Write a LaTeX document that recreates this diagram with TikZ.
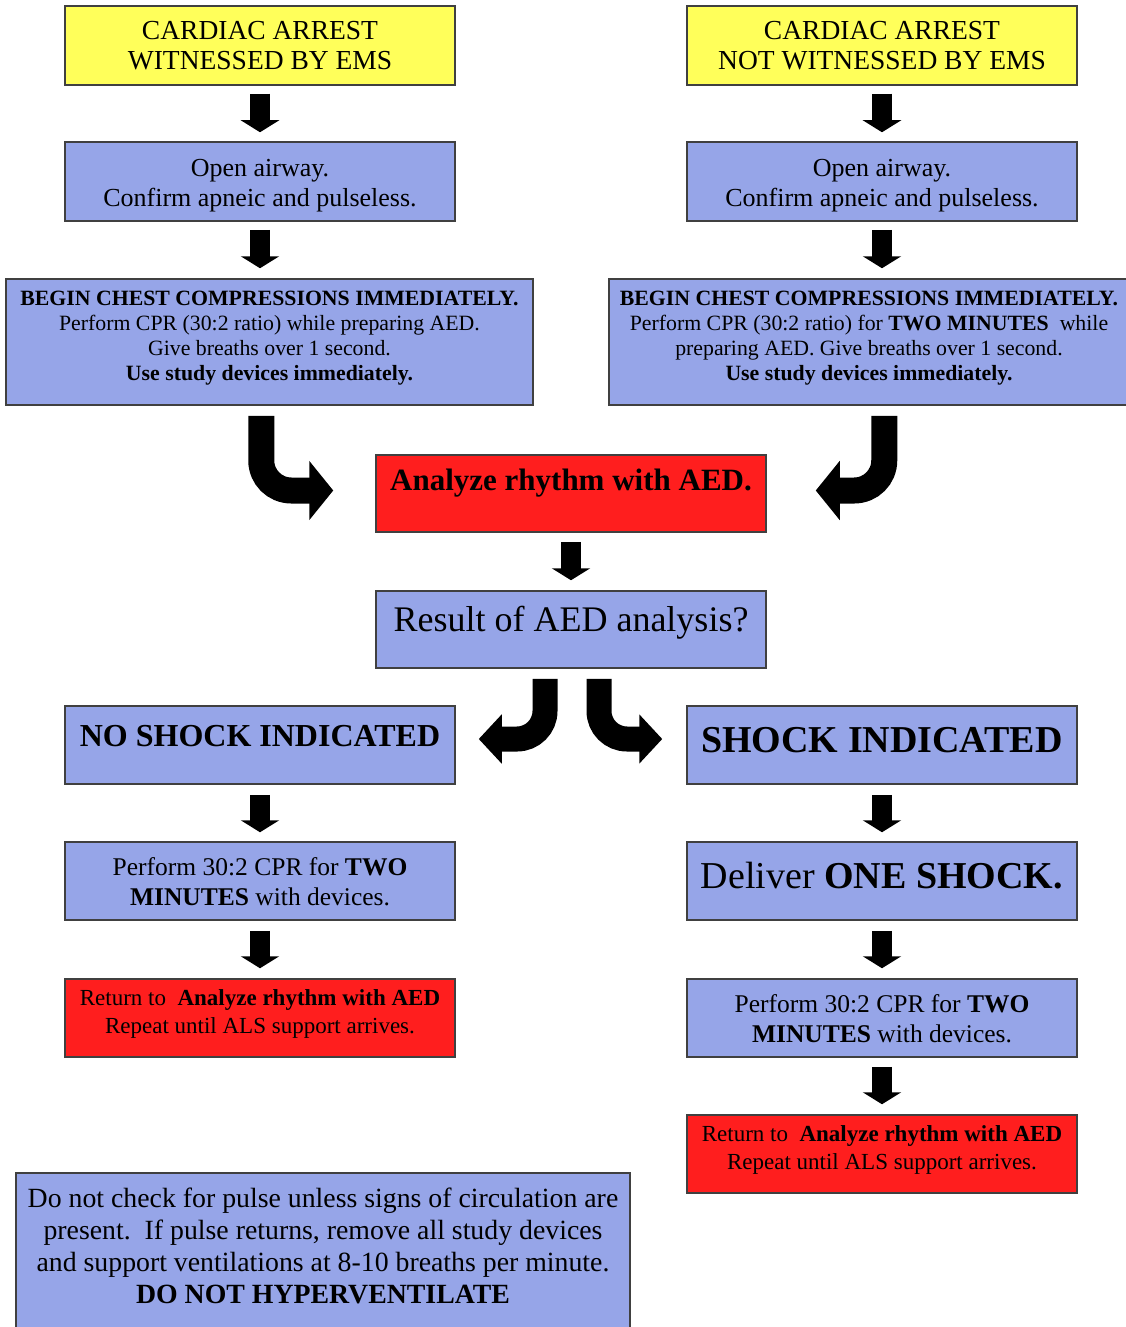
\documentclass[tikz,border=0pt]{standalone}
\usepackage{fontspec}
\setmainfont{Liberation Serif}
\usetikzlibrary{arrows.meta,calc}
\definecolor{boxblue}{RGB}{150,165,232}
\definecolor{boxyellow}{RGB}{255,255,90}
\definecolor{boxred}{RGB}{255,30,30}
\newcommand{\fs}[2]{\fontsize{#1}{#2}\selectfont}
\tikzset{
  box/.style={draw=black!75, line width=1.5pt, minimum width=390pt, minimum height=79pt, inner sep=0pt},
  bbox/.style={box, fill=boxblue},
  ybox/.style={box, fill=boxyellow},
  rbox/.style={box, fill=boxred},
  txt/.style={align=center, inner sep=0pt, text=black},
  darr/.style={line width=20pt, -{Triangle[width=38pt,length=12pt]}},
  cvarr/.style={line width=26pt, rounded corners=30pt, -{Triangle[width=58pt,length=24pt]}},
  cvarrb/.style={line width=25pt, rounded corners=28pt, -{Triangle[width=48pt,length=23pt]}},
}
\begin{document}
\begin{tikzpicture}[x=1pt,y=-1pt]
\useasboundingbox (0,0) rectangle (1126,1327);
\clip (0,0) rectangle (1126,1327);
% boxes
\node[ybox] (Y1) at (260,45.5) {};
\node[ybox] (Y2) at (882,45.5) {};
\node[bbox] (B1) at (260,181.5) {};
\node[bbox] (B2) at (882,181.5) {};
\node[bbox, minimum width=527pt, minimum height=126pt] (B3) at (269.5,342) {};
\node[bbox, minimum width=519pt, minimum height=126pt] (B4) at (868.5,342) {};
\node[rbox, minimum height=77pt] (R1) at (571,493.5) {};
\node[bbox, minimum height=77pt] (B5) at (571,629.5) {};
\node[bbox, minimum height=78pt] (B6) at (260,745) {};
\node[bbox, minimum height=78pt] (B7) at (882,745) {};
\node[bbox, minimum height=78pt] (B8) at (260,881) {};
\node[bbox, minimum height=78pt] (B9) at (882,881) {};
\node[rbox, minimum height=78pt] (R2) at (260,1018) {};
\node[bbox, minimum height=78pt] (B10) at (882,1018) {};
\node[rbox, minimum height=78pt] (R3) at (882,1154) {};
\node[bbox, minimum width=614pt, minimum height=167pt] (B11) at (323,1256.5) {};
% texts
\node[txt, font=\fs{27.5}{30}] (tY1) at (260,46) {CARDIAC ARREST\\WITNESSED BY EMS};
\node[txt, font=\fs{27.5}{30}] (tY2) at (882,46) {CARDIAC ARREST\\NOT WITNESSED BY EMS};
\node[txt, font=\fs{26}{30}] (tB1) at (260,186) {Open airway.\\Confirm apneic and pulseless.};
\node[txt, font=\fs{26}{30}] (tB2) at (882,186) {Open airway.\\Confirm apneic and pulseless.};
\node[txt, font=\fs{21.8}{25}] (tB3) at (269.5,338) {\textbf{BEGIN CHEST COMPRESSIONS IMMEDIATELY.}\\Perform CPR (30:2 ratio) while preparing AED.\\Give breaths over 1 second.\\\textbf{Use study devices immediately.}};
\node[txt, font=\fs{21.8}{25}] (tB4) at (869,338) {\textbf{BEGIN CHEST COMPRESSIONS IMMEDIATELY.}\\Perform CPR (30:2 ratio) for \textbf{TWO MINUTES}\ \ while\\preparing AED. Give breaths over 1 second.\\\textbf{Use study devices immediately.}};
\node[txt, font=\fs{31}{35}\bfseries] (tR1) at (571,483) {Analyze rhythm with AED.};
\node[txt, font=\fs{36}{40}] (tB5) at (571,623) {Result of AED analysis?};
\node[txt, font=\fs{32}{36}\bfseries] (tB6) at (260,736) {NO SHOCK INDICATED};
\node[txt, font=\fs{38}{42}\bfseries] (tB7) at (882,740) {SHOCK INDICATED};
\node[txt, font=\fs{25.5}{30}] (tB8) at (260,882) {Perform 30:2 CPR for \textbf{TWO}\\\textbf{MINUTES} with devices.};
\node[txt, font=\fs{38}{42}] (tB9) at (882,876) {Deliver \textbf{ONE SHOCK.}};
\node[txt, font=\fs{23}{28}] (tR2) at (260,1014) {Return to\ \ \textbf{Analyze rhythm with AED}\\Repeat until ALS support arrives.};
\node[txt, font=\fs{25.5}{30}] (tB10) at (882,1019) {Perform 30:2 CPR for \textbf{TWO}\\\textbf{MINUTES} with devices.};
\node[txt, font=\fs{23}{28}] (tR3) at (882,1150) {Return to\ \ \textbf{Analyze rhythm with AED}\\Repeat until ALS support arrives.};
\node[txt, font=\fs{27.8}{32}] (tB11) at (323,1246) {Do not check for pulse unless signs of circulation are\\present.\ \ If pulse returns, remove all study devices\\and support ventilations at 8-10 breaths per minute.\\\textbf{DO NOT HYPERVENTILATE}};
% straight arrows
\draw[darr] ($(Y1.south)+(0,8)$) -- ($(B1.north)+(0,-9)$);
\draw[darr] ($(Y2.south)+(0,8)$) -- ($(B2.north)+(0,-9)$);
\draw[darr] ($(B1.south)+(0,8)$) -- ($(B3.north -| B1.south)+(0,-10)$);
\draw[darr] ($(B2.south)+(0,8)$) -- ($(B4.north -| B2.south)+(0,-10)$);
\draw[darr] ($(R1.south)+(0,9)$) -- ($(B5.north)+(0,-10)$);
\draw[darr] ($(B6.south)+(0,10)$) -- ($(B8.north)+(0,-9)$);
\draw[darr] ($(B7.south)+(0,10)$) -- ($(B9.north)+(0,-9)$);
\draw[darr] ($(B8.south)+(0,10)$) -- ($(R2.north)+(0,-10)$);
\draw[darr] ($(B9.south)+(0,10)$) -- ($(B10.north)+(0,-10)$);
\draw[darr] ($(B10.south)+(0,9)$) -- ($(R3.north)+(0,-10)$);
% curved arrows
\draw[cvarr] ($(B3.south west)+(256,10)$) |- ($(R1.west)+(-42,-3)$);
\draw[cvarr] ($(B4.south west)+(276,10)$) |- ($(R1.east)+(49,-3)$);
\draw[cvarrb] ($(B5.south)+(-26,10)$) |- ($(B6.east)+(23,-6)$);
\draw[cvarrb] ($(B5.south)+(28,10)$) |- ($(B7.west)+(-24,-6)$);
\end{tikzpicture}
\end{document}
